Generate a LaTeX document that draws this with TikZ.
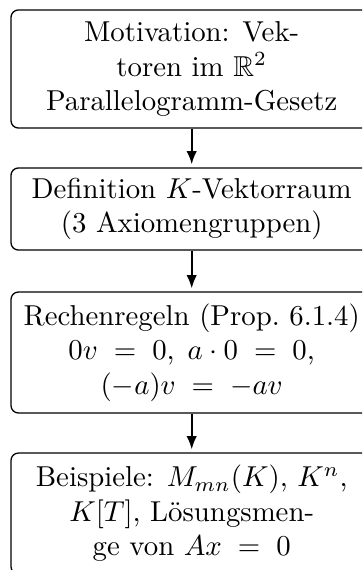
\documentclass[tikz,border=0pt]{standalone}
\usepackage{amssymb}
\usetikzlibrary{arrows.meta}
\begin{document}
\begin{tikzpicture}[x=0.3472pt,y=-0.3472pt,
  box/.style={draw=black, line width=0.45pt, rounded corners=2.6pt,
    minimum width=125.5pt, align=center, inner sep=0pt, font=\fontsize{10}{12}\selectfont},
  flow/.style={line width=0.7pt, -{Latex[length=4.6pt,width=3.6pt]}, shorten >=1pt}]
\useasboundingbox (0,0) rectangle (362,570);
\clip (0,0) rectangle (362,570);
\node[box, minimum height=41pt] (b1) at (191.7,69)
  {Motivation: Vek-\\toren im $\mathbb{R}^2$\\Parallelogramm-Gesetz};
\node[box, minimum height=28.5pt] (b2) at (191.7,209)
  {Definition $K$-Vektorraum\\(3 Axiomengruppen)};
\node[box, minimum height=42pt] (b3) at (191.7,352.5)
  {Rechenregeln (Prop.\ 6.1.4)\\$0v\;=\;0$,\hspace{4.5pt}$a\cdot 0\;=\;0$,\\$(-a)v\;=\;-av$};
\node[box, minimum height=42pt] (b4) at (191.7,513.5)
  {Beispiele: $M_{mn}(K)$, $K^n$,\\$K[T]$, Lösungsmen-\\ge von $Ax\;=\;0$};
\draw[flow] (b1.south) -- (b2.north);
\draw[flow] (b2.south) -- (b3.north);
\draw[flow] (b3.south) -- (b4.north);
\end{tikzpicture}
\end{document}
